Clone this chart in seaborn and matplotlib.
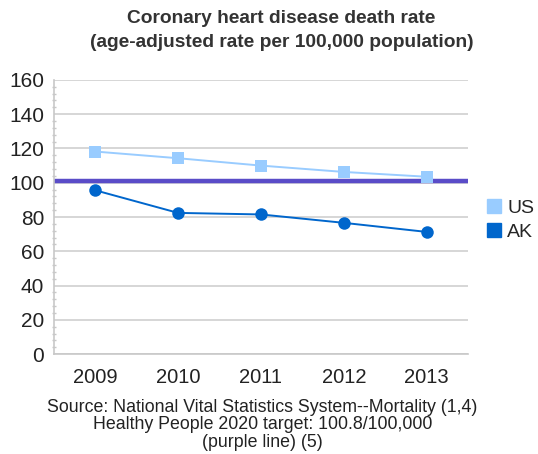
import matplotlib
matplotlib.use("Agg")
import matplotlib.pyplot as plt
import seaborn as sns
import pandas as pd
from matplotlib.lines import Line2D
from matplotlib.ticker import MultipleLocator

years = ["2009", "2010", "2011", "2012", "2013"]
us_values = [118.2, 114.3, 110.0, 106.3, 103.5]
ak_values = [95.6, 82.4, 81.5, 76.6, 71.3]
target = 100.8
y_ticks = [0, 20, 40, 60, 80, 100, 120, 140, 160]

sns.set_theme(style="white")
plt.rcParams['font.family'] = ['Liberation Sans', 'DejaVu Sans']

df = pd.DataFrame({
    "year": years * 2,
    "value": us_values + ak_values,
    "series": ["US"] * len(years) + ["AK"] * len(years),
})

fig = plt.figure(figsize=(5.38, 4.54), dpi=100)
ax = fig.add_axes([0.100, 0.220, 0.770, 0.604])

ax.axhline(target, color="#5A4CC8", lw=3.2, zorder=2)

palette = {"US": "#99CCFF", "AK": "#0066CC"}
sns.lineplot(data=df, x="year", y="value", hue="series", style="series",
             markers={"US": "s", "AK": "o"}, dashes=False, palette=palette,
             markersize=9, markeredgewidth=0, linewidth=1.4, ax=ax,
             legend=False, zorder=3)

ax.set_xlim(-0.5, len(years) - 0.5)
ax.set_ylim(0, 160)
ax.set_yticks(y_ticks)
ax.yaxis.set_minor_locator(MultipleLocator(4))
ax.grid(axis="y", color="#D0D0D0", lw=1.2)
ax.set_axisbelow(True)
ax.set_xlabel("")
ax.set_ylabel("")
for s in ["top", "right"]:
    ax.spines[s].set_visible(False)
for s in ["left", "bottom"]:
    ax.spines[s].set_color("#C8C8C8")
    ax.spines[s].set_linewidth(1.2)
ax.tick_params(axis="y", which="major", length=0, labelsize=15, labelcolor="#222222", pad=7)
ax.tick_params(axis="y", which="minor", length=3, color="#C8C8C8", direction="inout", left=True)
ax.tick_params(axis="x", length=0, labelsize=14.5, labelcolor="#222222", pad=10)

handles = [
    Line2D([], [], marker="s", linestyle="none", markersize=10, color=palette["US"], label="US"),
    Line2D([], [], marker="s", linestyle="none", markersize=10, color=palette["AK"], label="AK"),
]
fig.legend(handles=handles, loc="center left", bbox_to_anchor=(0.885, 0.515),
           frameon=False, fontsize=14, handletextpad=0.2, labelspacing=0.3,
           handlelength=1.0, borderaxespad=0)

fig.text(0.523, 0.960, "Coronary heart disease death rate", ha="center", va="center",
         fontsize=13.8, fontweight="bold", color="#333333")
fig.text(0.523, 0.907, "(age-adjusted rate per 100,000 population)", ha="center", va="center",
         fontsize=13.8, fontweight="bold", color="#333333")

fig.text(0.488, 0.064, "Source: National Vital Statistics System--Mortality (1,4)\n"
         "Healthy People 2020 target: 100.8/100,000\n(purple line) (5)",
         ha="center", va="center", fontsize=12.8, color="#222222", linespacing=1.05)

fig.savefig("out.png", dpi=100)
